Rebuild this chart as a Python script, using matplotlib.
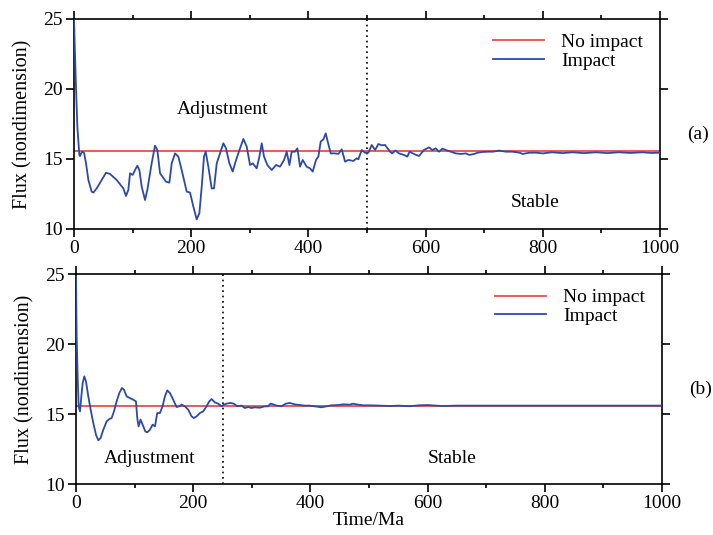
import numpy as np
import matplotlib
matplotlib.use('Agg')
import matplotlib.pyplot as plt
from matplotlib.ticker import MultipleLocator

plt.rcParams['font.family'] = ['Liberation Serif', 'DejaVu Serif']
plt.rcParams['font.size'] = 14

# Panel (a): impact run
time_a = [0, 2.8, 5.7, 9.1, 10.2, 13.7, 17.1, 20.5, 24.5, 30.1, 33.0, 38.7, 47.2, 54.6, 61.4, 72.8,
          84.2, 88.7, 92.7, 95.6, 100.1, 104.1, 108.1, 111.5, 115.5, 121.2, 125.1, 132.5, 138.2,
          142.2, 146.8, 157.0, 162.7, 166.7, 172.4, 178.0, 183.7, 192.3, 198.0, 203.6, 209.3,
          213.9, 217.9, 221.8, 224.7, 229.2, 234.9, 238.9, 243.5, 249.1, 254.8, 259.4, 265.1,
          270.8, 276.5, 283.3, 289.0, 294.7, 300.3, 304.9, 311.7, 316.3, 320.3, 324.2, 329.9,
          337.3, 344.7, 351.5, 358.4, 362.9, 367.5, 371.4, 377.1, 381.1, 385.7, 390.2, 397.0,
          402.7, 407.3, 412.9, 416.9, 420.9, 425.5, 429.5, 432.9, 438.0, 445.4, 451.1, 456.8,
          462.5, 468.1, 476.7, 482.4, 485.2, 490.9, 496.6, 502.3, 508.0, 513.7, 519.3, 525.0,
          530.7, 539.3, 542.9, 548.6, 554.3, 562.9, 568.6, 572.6, 580.0, 588.6, 597.1, 605.7,
          611.4, 617.1, 622.9, 628.6, 634.3, 642.9, 651.4, 660.0, 668.6, 674.3, 682.9, 688.6,
          697.1, 705.7, 714.3, 725.7, 737.1, 748.6, 760.0, 765.7, 777.1, 788.6, 800, 815, 834,
          850, 870, 891, 910, 930, 949, 970, 985, 1000]
flux_a = [24.93, 20.88, 17.31, 15.29, 15.21, 15.52, 15.45, 14.69, 13.50, 12.67, 12.60, 12.90,
          13.50, 14.02, 13.93, 13.50, 12.90, 12.36, 12.79, 13.98, 13.86, 14.21, 14.52, 14.21,
          13.02, 12.07, 12.79, 14.69, 15.95, 15.64, 13.98, 13.38, 13.31, 14.69, 15.40, 15.17,
          14.21, 12.67, 12.60, 11.60, 10.69, 11.12, 13.02, 15.17, 15.52, 14.45, 12.90, 12.90,
          14.69, 15.40, 16.12, 15.76, 14.69, 14.10, 14.93, 15.76, 16.43, 15.88, 14.57, 14.69,
          14.33, 15.17, 16.12, 15.17, 14.57, 14.21, 14.57, 14.45, 14.93, 15.52, 14.57, 15.52,
          15.52, 15.76, 14.45, 14.93, 14.45, 14.33, 14.10, 14.93, 15.17, 16.24, 16.40, 16.83,
          16.24, 15.40, 15.40, 15.36, 15.69, 14.81, 14.93, 14.86, 15.05, 14.98, 15.64, 15.45,
          15.45, 16.00, 15.64, 16.07, 15.98, 16.00, 15.52, 15.40, 15.60, 15.40, 15.29, 15.17,
          15.52, 15.36, 15.21, 15.64, 15.83, 15.64, 15.76, 15.52, 15.74, 15.64, 15.52, 15.40,
          15.36, 15.40, 15.29, 15.36, 15.45, 15.50, 15.52, 15.52, 15.60, 15.52, 15.52, 15.45,
          15.36, 15.45, 15.45, 15.40, 15.48, 15.42, 15.48, 15.42, 15.48, 15.42, 15.48, 15.43,
          15.48, 15.43, 15.45]

# Panel (b): impact run
time_b = [0, 1.1, 2.8, 4.5, 6.8, 9.1, 11.4, 14.2, 17.0, 21.0, 25.0, 29.5, 34.1, 38.1, 42.0,
          46.6, 52.3, 56.8, 60.8, 64.8, 69.3, 73.9, 78.4, 81.8, 86.4, 92.0, 97.7, 102.3, 104.5,
          106.8, 110.2, 114.8, 118.2, 121.6, 126.1, 130.7, 134.7, 138.6, 143.2, 147.7, 151.7,
          155.7, 160.2, 165.9, 171.6, 176.1, 180.1, 185.8, 191.5, 197.2, 201.1, 205.7, 211.4,
          217.0, 222.7, 227.3, 231.3, 236.9, 242.6, 248.3, 252.3, 256.8, 263.6, 269.3, 275.0,
          282.4, 288.1, 293.8, 299.4, 305.1, 313.6, 322.2, 327.8, 331.8, 336.4, 342.0, 350.6,
          358.0, 364.8, 373.3, 381.8, 390.3, 398.9, 407.4, 418.8, 427.3, 435.8, 447.2, 455.7,
          467.0, 472.7, 481.3, 489.8, 501.1, 518.2, 535.2, 550, 570, 585, 600, 625, 650, 700,
          800, 1000]
flux_b = [24.83, 20.55, 17.69, 15.55, 15.19, 16.26, 17.21, 17.69, 17.33, 16.26, 15.31, 14.36,
          13.52, 13.12, 13.29, 13.88, 14.48, 14.64, 14.71, 15.19, 15.90, 16.50, 16.86, 16.74,
          16.26, 16.14, 16.02, 15.90, 14.71, 14.12, 14.60, 14.12, 13.76, 13.69, 13.88, 14.24,
          14.12, 15.07, 15.07, 15.55, 16.26, 16.69, 16.50, 16.02, 15.50, 15.55, 15.67, 15.55,
          15.31, 14.83, 14.71, 14.83, 15.07, 15.19, 15.55, 15.90, 16.07, 15.83, 15.74, 15.55,
          15.67, 15.74, 15.79, 15.74, 15.55, 15.60, 15.43, 15.50, 15.43, 15.48, 15.45, 15.55,
          15.55, 15.74, 15.69, 15.60, 15.55, 15.74, 15.79, 15.69, 15.64, 15.60, 15.60, 15.55,
          15.48, 15.55, 15.62, 15.64, 15.69, 15.67, 15.74, 15.67, 15.62, 15.62, 15.60, 15.57,
          15.60, 15.56, 15.62, 15.64, 15.57, 15.60, 15.60, 15.60, 15.60]

no_impact = 15.6
split_time = [500, 250]
labels = ['No impact', 'Impact']
panel_tags = ['(a)', '(b)']

red = '#ef4a4a'
blue = '#2c4aa8'

fig = plt.figure(figsize=(7.13, 5.35), dpi=100)
ax_a = fig.add_axes([0.1038, 0.572, 0.822, 0.3925])
ax_b = fig.add_axes([0.1066, 0.0953, 0.822, 0.3925])

panels = [(ax_a, time_a, flux_a), (ax_b, time_b, flux_b)]
for i, (ax, t, f) in enumerate(panels):
    ax.axhline(no_impact, color=red, lw=1.3, label=labels[0], zorder=2)
    ax.plot(t, f, color=blue, lw=1.3, label=labels[1], zorder=3)
    ax.axvline(split_time[i], color='black', lw=1.2, ls=(0, (1, 2.2)), zorder=1)
    ax.set_xlim(0, 1000)
    ax.set_ylim(10, 25)
    ax.xaxis.set_major_locator(MultipleLocator(200))
    ax.xaxis.set_minor_locator(MultipleLocator(100))
    ax.yaxis.set_major_locator(MultipleLocator(5))
    ax.tick_params(which='both', direction='out', top=True, right=True, width=1.2, labelsize=14)
    ax.tick_params(which='major', length=6, pad=2)
    ax.tick_params(which='minor', length=3)
    for s in ax.spines.values():
        s.set_linewidth(1.2)
    ax.set_ylabel('Flux (nondimension)', fontsize=14.5, labelpad=8)
    leg = ax.legend(loc='upper left', bbox_to_anchor=(0.715, 0.93), frameon=False,
                    handlelength=2.6, handletextpad=0.9, labelspacing=0.05,
                    borderpad=0, borderaxespad=0, fontsize=14)
    ax.text(1.065, 0.45, panel_tags[i], transform=ax.transAxes, ha='center', va='center',
            fontsize=14)

ax_a.text(254, 18.5, 'Adjustment', ha='center', va='center', fontsize=14)
ax_a.text(787, 11.9, 'Stable', ha='center', va='center', fontsize=14)
ax_b.text(126, 11.8, 'Adjustment', ha='center', va='center', fontsize=14)
ax_b.text(642, 11.8, 'Stable', ha='center', va='center', fontsize=14)
ax_b.set_xlabel('Time/Ma', fontsize=14, labelpad=0)

fig.savefig('out.png', dpi=100)
